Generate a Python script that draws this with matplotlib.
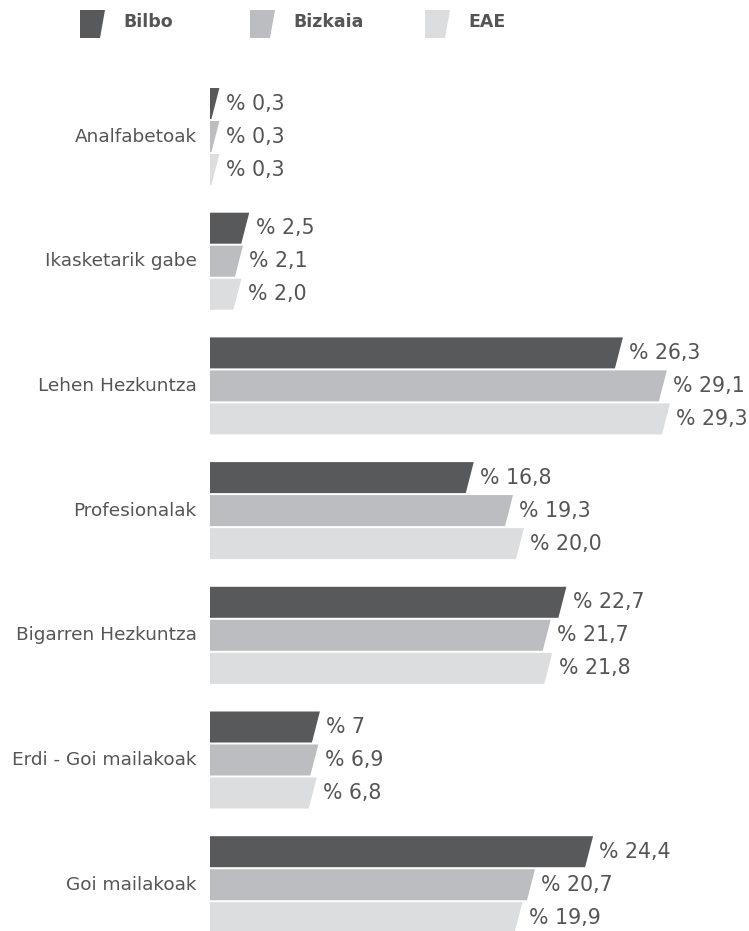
import numpy as np
import matplotlib.pyplot as plt
from matplotlib.patches import Polygon

categories = ["Analfabetoak", "Ikasketarik gabe", "Lehen Hezkuntza", "Profesionalak",
              "Bigarren Hezkuntza", "Erdi - Goi mailakoak", "Goi mailakoak"]
series = ["Bilbo", "Bizkaia", "EAE"]
bilbo = [0.3, 2.5, 26.3, 16.8, 22.7, 7, 24.4]
bizkaia = [0.3, 2.1, 29.1, 19.3, 21.7, 6.9, 20.7]
eae = [0.3, 2.0, 29.3, 20.0, 21.8, 6.8, 19.9]
value_labels = ["% 0,3", "% 2,5", "% 26,3", "% 16,8", "% 22,7", "% 7", "% 24,4",
                "% 0,3", "% 2,1", "% 29,1", "% 19,3", "% 21,7", "% 6,9", "% 20,7",
                "% 0,3", "% 2,0", "% 29,3", "% 20,0", "% 21,8", "% 6,8", "% 19,9"]
colors = ["#58595b", "#bcbdc0", "#dcdddf"]

W, H = 749, 931
fig = plt.figure(figsize=(W / 100, H / 100), dpi=100)
ax = fig.add_axes([210 / W, 0, 1 - 210 / W, 1])
px = 15.7  # pixels per unit
ax.set_xlim(0, (W - 210) / px)
pitch = 124.7
ax.set_ylim((H - 136.5) / pitch, -136.5 / pitch)
ax.axis("off")

bh = 31 / pitch
step = 33 / pitch
slant = 8 / px
txtc = "#555555"
fam = "DejaVu Sans"

for j, vals in enumerate([bilbo, bizkaia, eae]):
    for i, v in enumerate(vals):
        yc = i + (j - 1) * step
        top, bot = yc - bh / 2, yc + bh / 2
        r = max(v, 0.6)
        poly = Polygon([(0, top), (r, top), (r - slant, bot), (0, bot)],
                       closed=True, facecolor=colors[j], edgecolor="none")
        ax.add_patch(poly)
        ax.text(r + 0.4, yc, value_labels[j * 7 + i], va="center", ha="left",
                fontsize=14.8, color=txtc, family=fam)

for i, c in enumerate(categories):
    ax.text(-0.85, i, c, va="center", ha="right", fontsize=13.3, color=txtc,
            family=fam)

# legend
leg_x = [80, 250, 425]
for k, s in enumerate(series):
    x0 = leg_x[k]
    pts = [(x0 + 0, 38), (x0 + 20, 38), (x0 + 25, 10), (x0, 10)]
    pts = [(p[0] / W, 1 - p[1] / H) for p in pts]
    fig.patches.append(Polygon(pts, closed=True, transform=fig.transFigure,
                               facecolor=colors[k], edgecolor="none"))
    fig.text((x0 + 43) / W, 1 - 22 / H, s, va="center", ha="left", fontsize=12.5,
             color=txtc, family=fam, fontweight="bold")

fig.savefig("out.png", dpi=100)
